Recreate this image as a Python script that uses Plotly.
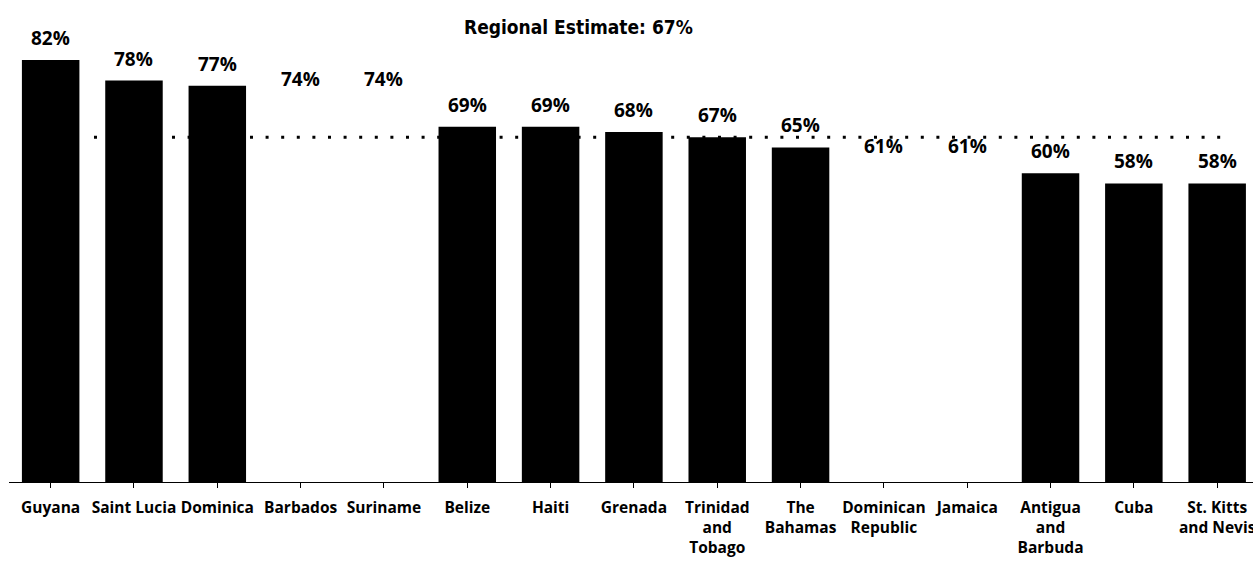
import plotly.graph_objects as go

countries = ["Guyana", "Saint Lucia", "Dominica", "Barbados", "Suriname", "Belize", "Haiti",
             "Grenada", "Trinidad<br>and<br>Tobago", "The<br>Bahamas", "Dominican<br>Republic",
             "Jamaica", "Antigua<br>and<br>Barbuda", "Cuba", "St. Kitts<br>and Nevis"]
values = [82, 78, 77, 74, 74, 69, 69, 68, 67, 65, 61, 61, 60, 58, 58]
bar_colors = ["#000000", "#000000", "#000000", "#ffffff", "#ffffff", "#000000", "#000000",
              "#000000", "#000000", "#000000", "#ffffff", "#ffffff", "#000000", "#000000", "#000000"]
regional_estimate = 67
title_text = "Regional Estimate: 67%"

x_idx = list(range(len(countries)))

fig = go.Figure()
fig.add_trace(go.Bar(
    x=x_idx, y=values, marker=dict(color=bar_colors, line=dict(width=0)),
    width=0.69, hoverinfo="skip"))

# regional estimate dotted line
fig.add_trace(go.Scatter(
    x=[x_idx[0] + 0.52, x_idx[-1] + 0.1], y=[regional_estimate, regional_estimate],
    mode="lines", line=dict(color="#000000", width=3, dash="3px,12.6px"),
    hoverinfo="skip"))

for xi, v in zip(x_idx, values):
    fig.add_annotation(x=xi, y=v, text=f"{v}%", showarrow=False, yshift=22,
                       yanchor="middle",
                       font=dict(family="Open Sans", size=19, color="#000000", weight="bold"))

fig.add_annotation(x=0.4577, xref="paper", y=1.0, yref="paper", yanchor="middle", yshift=-17,
                   text=title_text, showarrow=False,
                   font=dict(family="DejaVu Sans Condensed, Roboto", size=19,
                             color="#000000", weight="bold"))

fig.update_layout(
    width=1253, height=562,
    margin=dict(l=9, r=0, t=10, b=80),
    plot_bgcolor="#ffffff", paper_bgcolor="#ffffff",
    showlegend=False,
    xaxis=dict(
        tickmode="array", tickvals=x_idx, ticktext=countries,
        range=[-0.5, 14.43], showline=True, linecolor="#000000", linewidth=1,
        ticks="outside", tickson="boundaries", ticklen=5, tickcolor="#000000",
        showgrid=False, zeroline=False, automargin=False, ticklabelstandoff=6,
        ticklabeloverflow="allow",
        tickfont=dict(family="Open Sans", size=15.5, color="#000000", weight="bold"),
    ),
    yaxis=dict(range=[0, 91.7], visible=False, showgrid=False, zeroline=False),
)

fig.write_html("out.html", config={"displayModeBar": False},
               post_script="document.body.style.margin='0px';")
